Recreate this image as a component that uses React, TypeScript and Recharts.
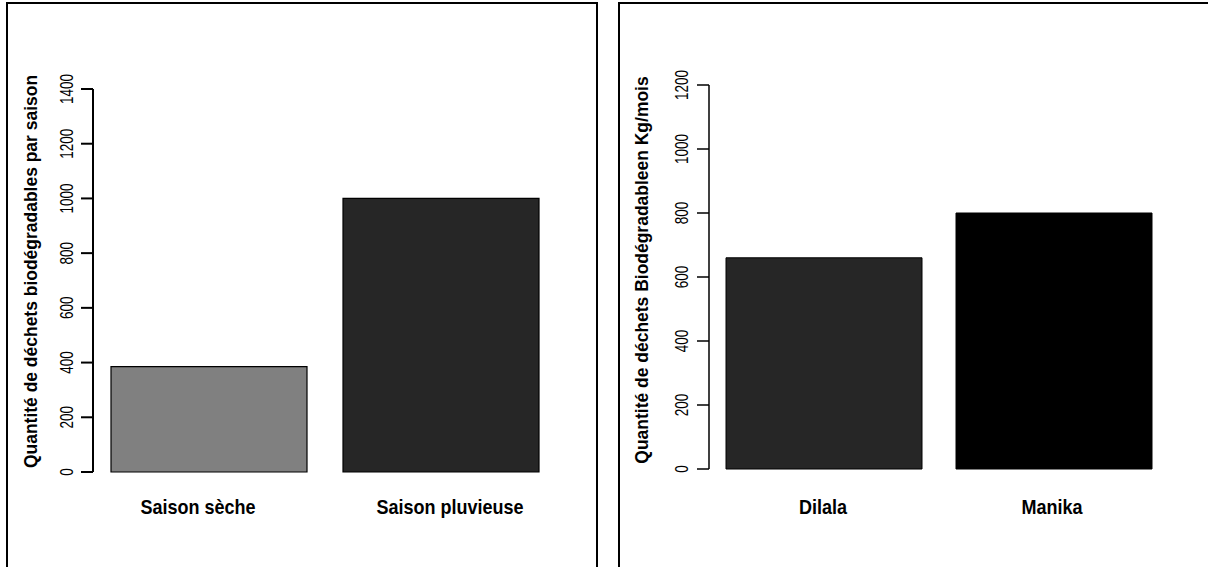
import React from "react";
import { BarChart, Bar, XAxis, YAxis, Cell, Label } from "recharts";

const seasonCategories = ["Saison sèche", "Saison pluvieuse"];
const seasonValues = [385, 1000];
const seasonColors = ["#808080", "#262626"];
const seasonTicks = [0, 200, 400, 600, 800, 1000, 1200, 1400];

const siteCategories = ["Dilala", "Manika"];
const siteValues = [660, 800];
const siteColors = ["#262626", "#000000"];
const siteTicks = [0, 200, 400, 600, 800, 1000, 1200];

const seasonData = seasonCategories.map((c, i) => ({ name: c, value: seasonValues[i] }));
const siteData = siteCategories.map((c, i) => ({ name: c, value: siteValues[i] }));

// styling
const FONT = "'Liberation Sans', Arial, Helvetica, sans-serif";
const seasonLabelShift = [-11, 9];
const siteLabelShift = [-1, -2];

const makeYTick = (offset: number) => (props: any) => {
  const { x, y, payload } = props;
  return (
    <text
      transform={`translate(${x - offset},${y}) rotate(-90) scale(0.75,1)`}
      textAnchor="middle"
      dominantBaseline="central"
      fontFamily={FONT}
      fontSize={18}
      fill="#000"
    >
      {payload.value}
    </text>
  );
};

const makeXTick = (dy: number, shifts: number[]) => (props: any) => {
  const { x, y, payload, index } = props;
  const s = shifts[index] || 0;
  return (
    <text
      transform={`translate(${x + s},${y + dy}) scale(0.9,1)`}
      textAnchor="middle"
      dominantBaseline="central"
      fontFamily={FONT}
      fontWeight="bold"
      fontSize={20}
      fill="#000"
    >
      {payload.value}
    </text>
  );
};

const makeTitle = (text: string, cx: number, cy: number) => () => (
  <text
    transform={`translate(${cx},${cy}) rotate(-90) scale(0.945,1)`}
    textAnchor="middle"
    dominantBaseline="central"
    fontFamily={FONT}
    fontWeight="bold"
    fontSize={18.5}
    fill="#000"
  >
    {text}
  </text>
);

export default function App() {
  return (
    <div
      style={{
        position: "absolute",
        left: 0,
        top: 0,
        width: 1208,
        height: 567,
        overflow: "hidden",
        background: "#fff",
      }}
    >
      <div
        style={{
          position: "absolute",
          left: 6,
          top: 2,
          width: 592,
          height: 620,
          border: "2px solid #000",
          boxSizing: "border-box",
        }}
      />
      <div
        style={{
          position: "absolute",
          left: 618,
          top: 2,
          width: 620,
          height: 620,
          border: "2px solid #000",
          boxSizing: "border-box",
        }}
      />
      <div style={{ position: "absolute", left: 0, top: 0 }}>
        <BarChart
          width={600}
          height={567}
          data={seasonData}
          margin={{ top: 89, right: 43, bottom: 65, left: 53 }}
        >
          <XAxis
            dataKey="name"
            axisLine={false}
            tickLine={false}
            tickSize={0}
            tickMargin={0}
            height={30}
            tick={makeXTick(35.5, seasonLabelShift)}
            interval={0}
          />
          <YAxis
            width={40}
            domain={[0, 1400]}
            ticks={seasonTicks}
            interval={0}
            tickSize={12}
            tickMargin={0}
            axisLine={{ stroke: "#000", strokeWidth: 2 }}
            tickLine={{ stroke: "#000", strokeWidth: 2 }}
            tick={makeYTick(14)}
          >
            <Label
              content={makeTitle(
                "Quantité de déchets biodégradables par saison",
                31,
                271.5
              )}
            />
          </YAxis>
          <Bar dataKey="value" barSize={196} stroke="#000" strokeWidth={1.2} isAnimationActive={false}>
            {seasonData.map((d, i) => (
              <Cell key={d.name} fill={seasonColors[i]} />
            ))}
          </Bar>
        </BarChart>
      </div>
      <div style={{ position: "absolute", left: 600, top: 0 }}>
        <BarChart
          width={608}
          height={567}
          data={siteData}
          margin={{ top: 85, right: 39, bottom: 68, left: 69 }}
        >
          <XAxis
            dataKey="name"
            axisLine={false}
            tickLine={false}
            tickSize={0}
            tickMargin={0}
            height={30}
            tick={makeXTick(38.5, siteLabelShift)}
            interval={0}
          />
          <YAxis
            width={40}
            domain={[0, 1200]}
            ticks={siteTicks}
            interval={0}
            tickSize={12}
            tickMargin={0}
            axisLine={{ stroke: "#000", strokeWidth: 1.5 }}
            tickLine={{ stroke: "#000", strokeWidth: 1.5 }}
            tick={makeYTick(15.5)}
          >
            <Label
              content={makeTitle(
                "Quantité de déchets Biodégradableen Kg/mois",
                42,
                270
              )}
            />
          </YAxis>
          <Bar dataKey="value" barSize={196} stroke="#000" strokeWidth={1} isAnimationActive={false}>
            {siteData.map((d, i) => (
              <Cell key={d.name} fill={siteColors[i]} />
            ))}
          </Bar>
        </BarChart>
      </div>
    </div>
  );
}
